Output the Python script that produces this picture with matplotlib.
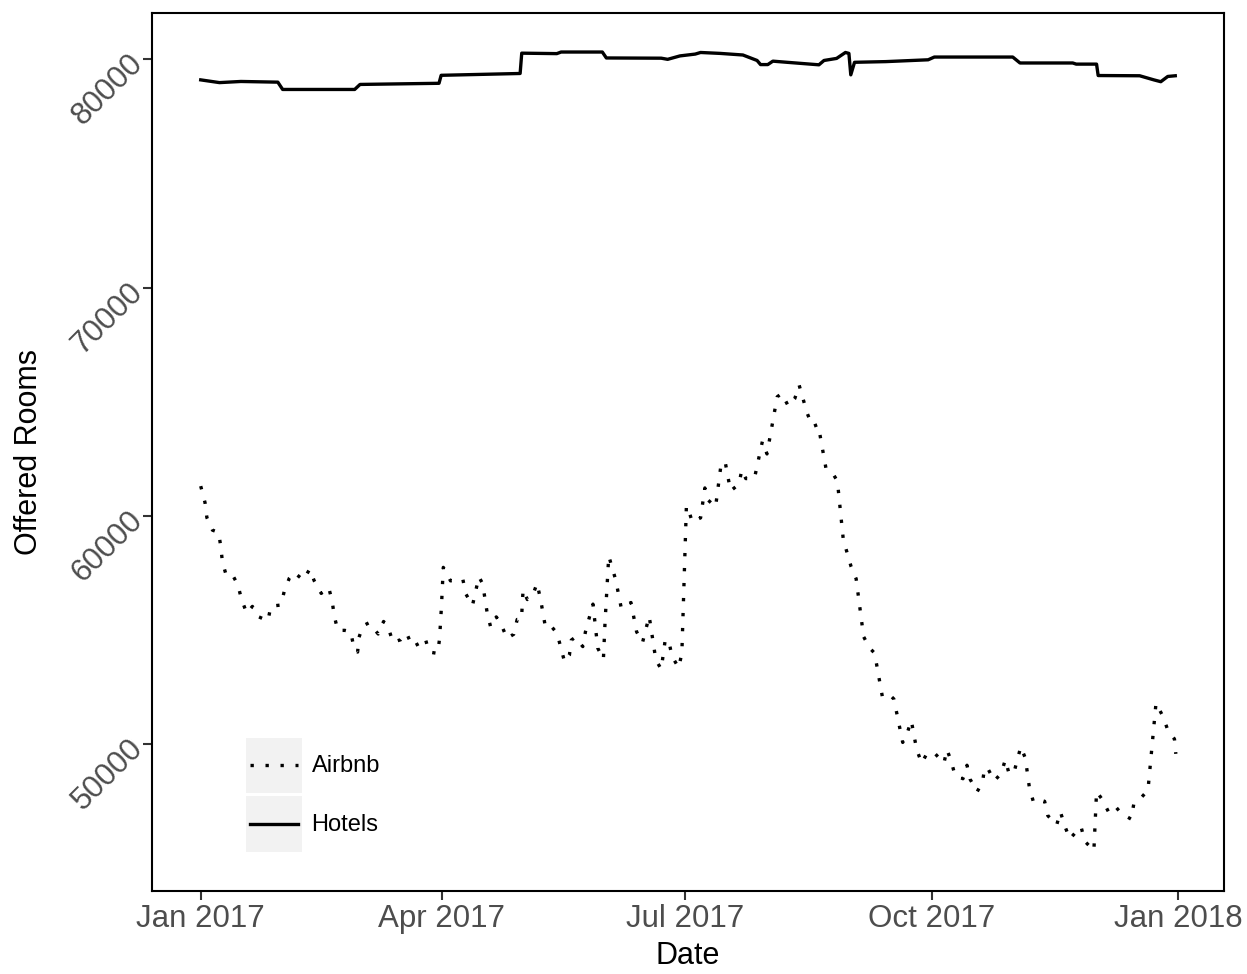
import numpy as np
import pandas as pd
import matplotlib
matplotlib.use("Agg")
import matplotlib.pyplot as plt
import matplotlib.dates as mdates
from matplotlib.legend_handler import HandlerBase
from matplotlib.patches import Rectangle
from matplotlib.lines import Line2D

plt.rcParams["font.family"] = ["Liberation Sans", "DejaVu Sans"]

# -*- values: days after 2017-01-01 and offered rooms
airbnb_day = [0.0, 1.6, 2.3, 4.4, 6.7, 7.5, 8.1, 9.6, 12.1, 13.9, 15.2, 17.2, 19.3,
              21.3, 25.1, 26.2, 30.0, 31.2, 33.1, 34.8, 38.3, 40.7, 42.4, 45.0,
              47.8, 49.1, 49.9, 51.2, 53.8, 56.0, 57.1, 58.6, 59.1, 60.6, 62.8,
              66.3, 68.3, 70.1, 71.8, 74.7, 76.9, 79.1, 82.0, 83.8, 85.3, 88.5,
              89.2, 89.9, 90.6, 93.3, 95.8, 97.9, 99.0, 101.5, 103.9, 105.3,
              107.0, 108.3, 110.4, 112.3, 114.4, 116.9, 118.2, 119.8, 120.4,
              122.0, 124.0, 125.6, 126.9, 128.8, 131.2, 133.1, 135.9, 137.7,
              138.4, 139.9, 142.7, 143.7, 146.5, 148.3, 150.4, 151.0, 152.4,
              155.0, 157.1, 159.1, 160.7, 162.8, 165.0, 167.5, 170.0, 172.0,
              173.5, 174.9, 176.0, 178.5, 179.7, 181.4, 182.0, 183.6, 186.7,
              188.3, 189.3, 192.3, 194.4, 195.9, 197.9, 201.0, 202.1, 203.6,
              206.8, 209.8, 211.5, 215.3, 217.0, 219.5, 221.9, 223.5, 226.5,
              228.5, 230.6, 233.5, 236.0, 237.8, 240.0, 242.9, 244.8, 247.6,
              249.9, 251.7, 254.6, 257.2, 258.9, 262.2, 263.9, 265.4, 267.4,
              269.3, 271.3, 274.1, 277.6, 278.7, 280.3, 281.7, 284.7, 286.2,
              287.4, 290.0, 292.0, 292.8, 294.1, 296.4, 299.0, 300.5, 301.9,
              303.7, 306.3, 308.0, 309.5, 311.0, 313.2, 315.2, 316.4, 319.7,
              321.1, 322.6, 324.6, 327.1, 328.8, 330.2, 333.6, 334.6, 336.6,
              339.1, 341.6, 343.8, 347.5, 348.5, 350.6, 353.8, 356.8, 359.4,
              361.3, 363.7, 364.2]
airbnb_val = [61300, 60580, 59920, 59370, 59270, 58630, 57980, 57360, 57360, 56970,
              56350, 55730, 56030, 55590, 55400, 56040, 56090, 56700, 57270, 57520,
              57190, 57660, 57150, 56600, 56860, 56250, 55600, 54980, 54980, 54920,
              54290, 54030, 54670, 55180, 55310, 54820, 55370, 55080, 54460, 54570,
              54850, 54260, 54430, 54650, 54030, 53970, 54610, 56000, 57740, 57150,
              57180, 57220, 56580, 56070, 57330, 57020, 55740, 55120, 55570, 55220,
              54630, 54810, 55460, 55460, 56760, 56330, 56510, 57040, 56360, 55090,
              55120, 54850, 53600, 53890, 54550, 54680, 54270, 54920, 56130, 54200,
              53710, 55300, 58240, 57190, 55940, 56090, 56200, 54920, 54440, 55600,
              53680, 53280, 54570, 54480, 53850, 53340, 53970, 60430, 60330, 59730,
              59910, 61220, 60710, 60390, 62300, 62350, 61090, 61380, 62010, 61630,
              61630, 63270, 62710, 65210, 65360, 64800, 65140, 65730, 64500, 63910,
              64000, 62100, 61870, 61520, 58960, 57780, 57240, 54700, 54200, 53980,
              52070, 52170, 51970, 50070, 50490, 51030, 49760, 49160, 49600, 49600,
              49160, 49760, 49250, 48640, 48480, 49070, 48450, 47910, 48330, 48960,
              48900, 48390, 48710, 49310, 48710, 48730, 49880, 49380, 48100, 47470,
              47560, 47490, 46860, 46450, 47030, 46450, 45840, 46170, 46380, 45740,
              45330, 47920, 47590, 47020, 47270, 46960, 46710, 47370, 47560, 47980,
              51790, 51210, 50580, 50220, 49570]

hotels_day = [0, 7, 15, 28.8, 30.6, 57.5, 59.5, 89, 89.8, 119.3, 119.9, 133, 134.6,
              150, 151.5, 172, 174.4, 179, 184.7, 186.7, 194, 202.5, 207.8, 209.1,
              211.8, 213.7, 219, 230.9, 232.8, 237.5, 240.8, 242.1, 242.8, 244.2,
              255.9, 271.7, 274.0, 303.3, 306.0, 325.7, 327, 334.6, 335.2, 350.7,
              356, 358.6, 361.2, 364]
hotels_val = [79100, 78980, 79030, 79000, 78680, 78680, 78900, 78950, 79300, 79380,
              80270, 80250, 80320, 80320, 80060, 80050, 80000, 80150, 80230, 80300,
              80260, 80190, 79950, 79770, 79770, 79920, 79870, 79760, 79950, 80040,
              80300, 80260, 79320, 79870, 79900, 79980, 80100, 80100, 79840, 79840,
              79790, 79790, 79290, 79280, 79100, 79020, 79250, 79280]

start = pd.Timestamp("2017-01-01")
airbnb_date = start + pd.to_timedelta(airbnb_day, unit="D")
hotels_date = start + pd.to_timedelta(hotels_day, unit="D")

x_ticks = pd.to_datetime(["2017-01-01", "2017-04-01", "2017-07-01",
                          "2017-10-01", "2018-01-01"])
y_ticks = [50000, 60000, 70000, 80000]

LW = 2.4
DOTTED = (0, (1, 3.5))


class KeyHandler(HandlerBase):
    """legend key with grey background box like ggplot"""

    def create_artists(self, legend, orig_handle, xdescent, ydescent,
                       width, height, fontsize, trans):
        x0, y0 = -xdescent, -ydescent
        bg = Rectangle((x0, y0), width, height, facecolor="#F2F2F2",
                       edgecolor="none", transform=trans)
        ls = DOTTED if orig_handle.get_linestyle() != "-" else "-"
        ln = Line2D([x0 + 0.07 * width, x0 + 0.93 * width],
                    [y0 + height / 2] * 2, color="black", lw=LW,
                    linestyle=ls, dash_capstyle="butt", transform=trans)
        return [bg, ln]


fig = plt.figure(figsize=(12.47, 9.74), dpi=100)
ax = fig.add_axes([152 / 1247, 1 - 891 / 974, 1072 / 1247, 878 / 974])

l_air, = ax.plot(airbnb_date, airbnb_val, color="black", lw=LW,
                 linestyle=DOTTED, dash_capstyle="butt", label="Airbnb")
l_hot, = ax.plot(hotels_date, hotels_val, color="black", lw=LW,
                 linestyle="-", solid_joinstyle="round", label="Hotels")

ax.set_xlim(start - pd.Timedelta(days=18.2), start + pd.Timedelta(days=382.2))
ax.set_ylim(43560, 82030)
ax.set_xticks(x_ticks)
ax.xaxis.set_major_formatter(mdates.DateFormatter("%b %Y"))
ax.set_yticks(y_ticks)

for s in ax.spines.values():
    s.set_linewidth(1.5)
    s.set_color("black")
ax.tick_params(axis="both", direction="out", length=6.7, width=1.5,
               color="#333333", labelcolor="#4D4D4D", labelsize=22.5, pad=3)
for lab in ax.get_yticklabels():
    lab.set_rotation(45)
    lab.set_rotation_mode("anchor")
    lab.set_ha("right")
    lab.set_va("center")

ax.set_xlabel("Date", fontsize=22, color="black", labelpad=5)
ax.set_ylabel("Offered Rooms", fontsize=22, color="black", labelpad=16)

leg = ax.legend(handles=[l_air, l_hot], loc="lower left",
                bbox_to_anchor=(93.7 / 1072, 39.3 / 878), frameon=False,
                fontsize=17, handler_map={Line2D: KeyHandler()},
                handlelength=2.37, handleheight=3.25, labelspacing=0.12,
                handletextpad=0.42, borderpad=0, borderaxespad=0)

fig.savefig("out.png", dpi=100)
